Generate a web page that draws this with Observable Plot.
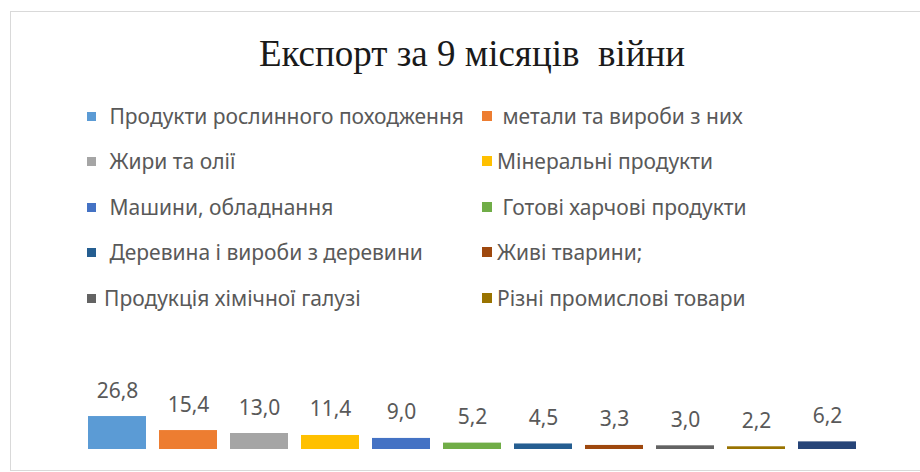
<!DOCTYPE html>
<html><head><meta charset="utf-8">
<script src="https://cdn.jsdelivr.net/npm/d3@7"></script>
<script src="https://cdn.jsdelivr.net/npm/@observablehq/plot@0.6"></script>
<style>
body{margin:0;background:#fff;}
#wrap{position:relative;width:920px;height:472px;overflow:hidden;background:#fff;}
#frame{position:absolute;left:10px;top:11px;width:960px;height:458px;border:1px solid #d9d9d9;pointer-events:none;}
#title{position:absolute;left:10px;width:924px;top:35px;line-height:37px;text-align:center;font-family:"Liberation Serif","Times New Roman",serif;font-size:37px;color:#1a1a1a;white-space:pre;}
.item{position:absolute;height:26px;display:flex;align-items:center;white-space:pre;font-family:"Noto Sans",sans-serif;font-size:21px;color:#595959;}
.sw{display:inline-block;flex:none;}
#chart{position:absolute;left:0;top:320px;}
</style>
</head><body>
<div id="wrap">
  <div id="title"></div>
  <div id="legend"></div>
  <div id="chart"></div>
  <div id="frame"></div>
</div>
<script>
const title = "Експорт за 9 місяців  війни";
const categories = [
  " Продукти рослинного походження",
  " метали та вироби з них",
  " Жири та олії",
  "Мінеральні продукти",
  " Машини, обладнання",
  " Готові харчові продукти",
  " Деревина і вироби з деревини",
  "Живі тварини;",
  "Продукція хімічної галузі",
  "Різні промислові товари",
  "Інше"
];
const values = [26.8, 15.4, 13.0, 11.4, 9.0, 5.2, 4.5, 3.3, 3.0, 2.2, 6.2];
const colors = ["#5B9BD5", "#ED7D31", "#A5A5A5", "#FFC000", "#4472C4", "#70AD47", "#255E91", "#9E480E", "#636363", "#997300", "#264478"];
const legendCount = 10;

document.getElementById("title").textContent = title;

const data = categories.map((c, i) => ({cat: c, value: values[i]}));
const fmt = v => d3.format(".1f")(v).replace(".", ",");

// legend (HTML, above the SVG)
const rowCenters = [116, 161, 207, 252, 298];
const legend = document.getElementById("legend");
for (let i = 0; i < legendCount; i++) {
  const row = Math.floor(i / 2), col = i % 2;
  const item = document.createElement("div");
  item.className = "item";
  item.style.left = (col === 0 ? 87 : 482) + "px";
  item.style.top = (rowCenters[row] - 13) + "px";
  const sw = document.createElement("span");
  sw.className = "sw";
  const s = col === 0 ? 9 : 10;
  sw.style.width = s + "px";
  sw.style.height = s + "px";
  sw.style.marginRight = (col === 0 ? 8 : 5) + "px";
  sw.style.background = colors[i];
  const tx = document.createElement("span");
  tx.textContent = categories[i];
  item.appendChild(sw);
  item.appendChild(tx);
  legend.appendChild(item);
}

const chart = Plot.plot({
  width: 920,
  height: 150,
  marginTop: 6,
  marginBottom: 21,
  marginLeft: 77.7,
  marginRight: 53.6,
  style: {background: "none", fontFamily: "Noto Sans, sans-serif", overflow: "visible"},
  x: {domain: categories, axis: null, paddingInner: 0.19, paddingOuter: 0.095},
  y: {domain: [0, 100], axis: null},
  color: {domain: categories, range: colors},
  marks: [
    Plot.barY(data, {x: "cat", y: "value", fill: "cat"}),
    Plot.text(data, {x: "cat", y: "value", text: d => fmt(d.value), lineAnchor: "bottom", dy: -19, fontSize: 21, fill: "#595959", style: "letter-spacing:1.5px"})
  ]
});
document.getElementById("chart").appendChild(chart);
</script>
</body></html>
